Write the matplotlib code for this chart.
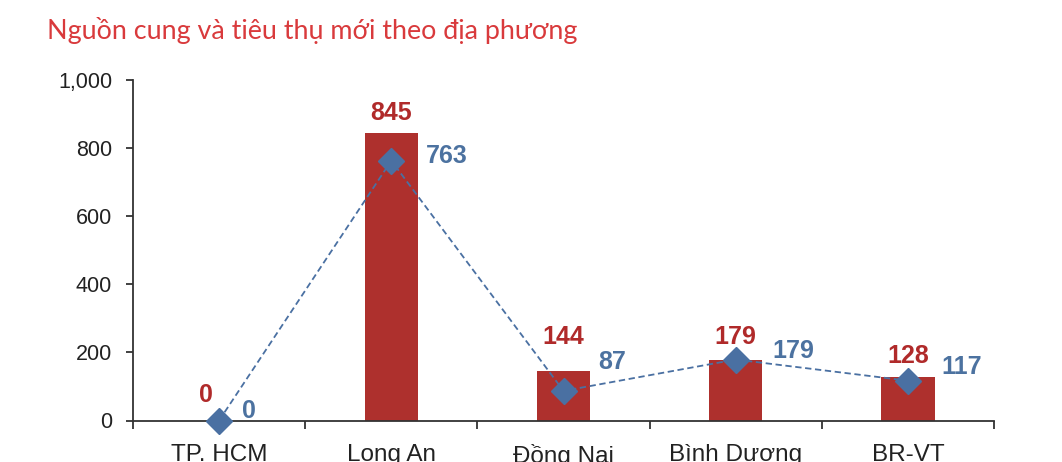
import matplotlib
matplotlib.use("Agg")
import matplotlib.pyplot as plt
import numpy as np

# data
regions = ["TP. HCM", "Long An", "Đồng Nai", "Bình Dương", "BR-VT"]
supply = [0, 845, 144, 179, 128]      # bars (red)
absorption = [0, 763, 87, 179, 117]   # diamonds (blue)
y_ticks = [0, 200, 400, 600, 800, 1000]

title = "Nguồn cung và tiêu thụ mới theo địa phương"

# label offsets in pixels (dx, dy)
supply_offsets = [(-13, 25), (0, 20), (0, 34), (0, 23), (0, 21)]
absorption_offsets = [(23, 10), (35, 5), (35, 29), (37, 9), (33, 14)]

red = "#AE302D"
blue = "#4A70A2"
red_text = "#B02A2A"
blue_text = "#4C72A0"
axis_col = "#333333"

plt.rcParams['font.family'] = ['Liberation Sans', 'DejaVu Sans']

fig = plt.figure(figsize=(10.62, 4.62), dpi=100)
ax = fig.add_axes([133 / 1062, 1 - 420.5 / 462, (994 - 133) / 1062, (420.5 - 80) / 462])

x = np.arange(len(regions))
ax.bar(x, supply, width=0.31, color=red, zorder=2)
ax.plot(x, absorption, color=blue, linestyle=(0, (3.5, 2)), linewidth=1.3,
        marker="D", markersize=13, markerfacecolor=blue, markeredgecolor=blue,
        zorder=3, clip_on=False)

for i, v in enumerate(supply):
    dx, dy = supply_offsets[i]
    ax.annotate(f"{v:,}", (x[i], v), xytext=(dx, dy), textcoords="offset pixels",
                ha="center", va="center", fontsize=18, fontweight="bold",
                color=red_text)
for i, v in enumerate(absorption):
    dx, dy = absorption_offsets[i]
    ax.annotate(f"{v:,}", (x[i], v), xytext=(dx, dy), textcoords="offset pixels",
                ha="left", va="center", fontsize=18, fontweight="bold",
                color=blue_text)

ax.set_xlim(-0.5, len(regions) - 0.5)
ax.set_ylim(0, 1000)
ax.set_yticks(y_ticks)
ax.set_yticklabels([f"{t:,}" for t in y_ticks])
ax.tick_params(axis="y", direction="out", length=5, width=1.3, colors=axis_col,
               labelsize=15.5, labelcolor="#222222", pad=10)

# category ticks between groups, labels at centers
ax.set_xticks(np.arange(-0.5, len(regions)), minor=False)
ax.set_xticklabels([])
ax.set_xticks(x, minor=True)
ax.set_xticklabels(regions, minor=True)
ax.tick_params(axis="x", which="major", direction="out", length=6, width=1.3,
               colors=axis_col)
ax.tick_params(axis="x", which="minor", length=0, labelsize=17.5,
               labelcolor="#222222", pad=17)

for side in ["top", "right"]:
    ax.spines[side].set_visible(False)
for side in ["left", "bottom"]:
    ax.spines[side].set_color(axis_col)
    ax.spines[side].set_linewidth(1.3)

fig.text(47 / 1062, 1 - 31 / 462, title, fontsize=19.4, color="#D93A3C",
         family=["Lato", "DejaVu Sans"], ha="left", va="center")

fig.savefig("out.png", dpi=100)
